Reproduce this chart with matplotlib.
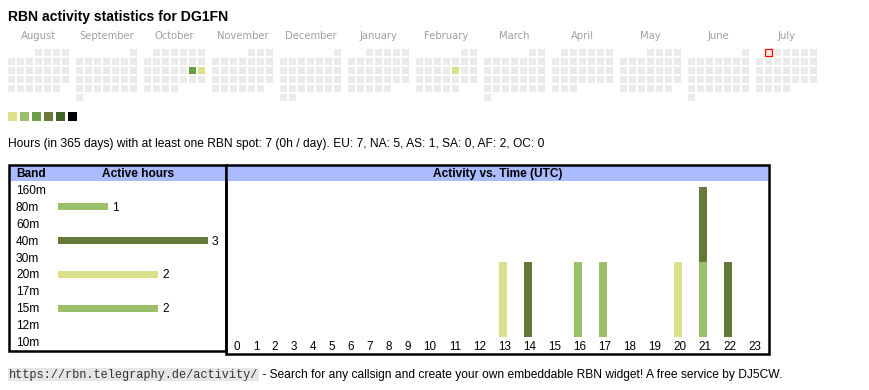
import datetime as dt
import calendar
import matplotlib
matplotlib.use('Agg')
import matplotlib.pyplot as plt
from matplotlib.patches import Rectangle

W, H = 870, 390

title = 'RBN activity statistics for DG1FN'
month_names = ['August', 'September', 'October', 'November', 'December', 'January',
               'February', 'March', 'April', 'May', 'June', 'July']
first_year, first_month = 2024, 8
today = dt.date(2025, 7, 1)

# days with spots and their colour level (0 = lightest)
active_days = ['2024-10-19', '2024-10-20', '2025-02-14']
active_levels = [2, 0, 0]
level_colors = ['#dbe08a', '#9cc06a', '#6a9e46', '#677a3a', '#3e6428', '#000000']

stats_text = ('Hours (in 365 days) with at least one RBN spot: 7 (0h / day). '
              'EU: 7, NA: 5, AS: 1, SA: 0, AF: 2, OC: 0')

bands = ['160m', '80m', '60m', '40m', '30m', '20m', '17m', '15m', '12m', '10m']
band_hours = [0, 1, 0, 3, 0, 2, 0, 2, 0, 0]
band_colors = ['#9cc06a', '#9cc06a', '#9cc06a', '#65793a', '#9cc06a',
               '#dbe08a', '#9cc06a', '#9cc06a', '#9cc06a', '#9cc06a']

hours = list(range(24))
# UTC hours in which each band was active
spots_80m = [16]
spots_40m = [14, 21, 22]
spots_20m = [13, 20]
spots_15m = [17, 21]

link_text = 'https://rbn.telegraphy.de/activity/'
footer_text = ' - Search for any callsign and create your own embeddable RBN widget! A free service by DJ5CW.'

cell_grey = '#ebebeb'
header_blue = '#aabbff'
fs = 8.6

plt.rcParams['font.family'] = ['Liberation Sans', 'DejaVu Sans']

fig = plt.figure(figsize=(W / 100, H / 100), dpi=100)
fig.patch.set_facecolor('white')
bg = fig.add_axes([0, 0, 1, 1])
bg.set_xlim(0, W)
bg.set_ylim(H, 0)
bg.axis('off')


def px_axes(x0, y0, x1, y1):
    return fig.add_axes([x0 / W, 1 - y1 / H, (x1 - x0) / W, (y1 - y0) / H])


def to_px(ax, x, y):
    return bg.transData.inverted().transform(ax.transData.transform((x, y)))


bg.text(8, 20.5, title, fontsize=10.1, fontweight='bold', va='baseline')

# ---- calendar ----
day_level = {dt.date.fromisoformat(d): lv for d, lv in zip(active_days, active_levels)}
y, m = first_year, first_month
for i, name in enumerate(month_names):
    x0 = 8 + 68 * i
    bg.text(x0 + 30.5, 39, name, fontsize=7.2, family='DejaVu Sans', color='#a0a0a0',
            ha='center', va='baseline')
    first_wd = dt.date(y, m, 1).weekday()
    ndays = calendar.monthrange(y, m)[1]
    for d in range(1, ndays + 1):
        pos = first_wd + d - 1
        col, row = pos % 7, pos // 7
        date = dt.date(y, m, d)
        fc = level_colors[day_level[date]] if date in day_level else cell_grey
        if date == today:
            bg.add_patch(Rectangle((x0 + 9 * col, 49 + 9 * row), 7, 7, fc=fc,
                                   ec='red', lw=0.9))
        else:
            bg.add_patch(Rectangle((x0 + 9 * col, 49 + 9 * row), 7, 7, fc=fc, lw=0))
    m += 1
    if m > 12:
        m, y = 1, y + 1

for i, c in enumerate(level_colors):
    bg.add_patch(Rectangle((8 + 12 * i, 111.5), 9, 9, fc=c, lw=0))

bg.text(8, 146.5, stats_text, fontsize=8.66, va='baseline')

# ---- band table ----
bg.add_patch(Rectangle((10, 166), 215, 15, fc=header_blue, lw=0))
bg.add_patch(Rectangle((9.2, 164.7), 216.5, 186, fill=False, ec='black', lw=1.8))
bg.text(16, 176.7, 'Band', fontsize=fs, fontweight='bold', va='baseline')
bg.text(138, 176.7, 'Active hours', fontsize=fs, fontweight='bold', va='baseline', ha='center')

axb = px_axes(10.5, 181, 224, 350)
axb.set_xlim((10.5 - 58) / 50, (224 - 58) / 50)
axb.set_ylim((350 - 190) / 16.9, (181 - 190) / 16.9)
axb.axis('off')
axb.barh(range(len(bands)), band_hours, height=7 / 16.9, color=band_colors)
for i, (b, v) in enumerate(zip(bands, band_hours)):
    _, py = to_px(axb, 0, i)
    bg.text(16, py + 4, b, fontsize=fs, va='baseline')
    if v > 0:
        px, _ = to_px(axb, v, i)
        bg.text(px + 4, py + 4, str(v), fontsize=fs, va='baseline')

# ---- activity vs time ----
bg.add_patch(Rectangle((227, 166), 541, 15, fc=header_blue, lw=0))
bg.add_patch(Rectangle((226, 164.7), 543, 189.5, fill=False, ec='black', lw=1.8))
bg.text(497.5, 176.7, 'Activity vs. Time (UTC)', fontsize=fs, fontweight='bold',
        va='baseline', ha='center')

col_w = [13 + 6 * len(str(h)) for h in hours]
centers = []
edge = 227.5
for w in col_w:
    centers.append(edge + w / 2)
    edge += w

axt = px_axes(227.5, 181, 767.5, 352)
axt.set_xlim(227.5, 767.5)
axt.set_ylim(-(352 - 337) / 75, (337 - 181) / 75)
axt.axis('off')

bottom = [0] * 24
for spots, c in [(spots_15m, '#9cc06a'), (spots_80m, '#9cc06a'),
                 (spots_20m, '#dbe08a'), (spots_40m, '#65793a')]:
    vals = [1 if h in spots else 0 for h in hours]
    axt.bar([x - 2 for x in centers], vals, width=8, bottom=bottom, color=c)
    bottom = [b + v for b, v in zip(bottom, vals)]

for h, x in zip(hours, centers):
    bg.text(x, 350, str(h), fontsize=8.4, ha='center', va='baseline')

# ---- footer ----
bg.add_patch(Rectangle((8, 368), 251, 13, fc='#e6e6e6', lw=0))
bg.text(9, 378, link_text, fontsize=8.6, family='Liberation Mono', color='#333333',
        va='baseline')
bg.text(259.5, 378, footer_text, fontsize=8.62, va='baseline')

fig.savefig('out.png', dpi=100, facecolor='white')
